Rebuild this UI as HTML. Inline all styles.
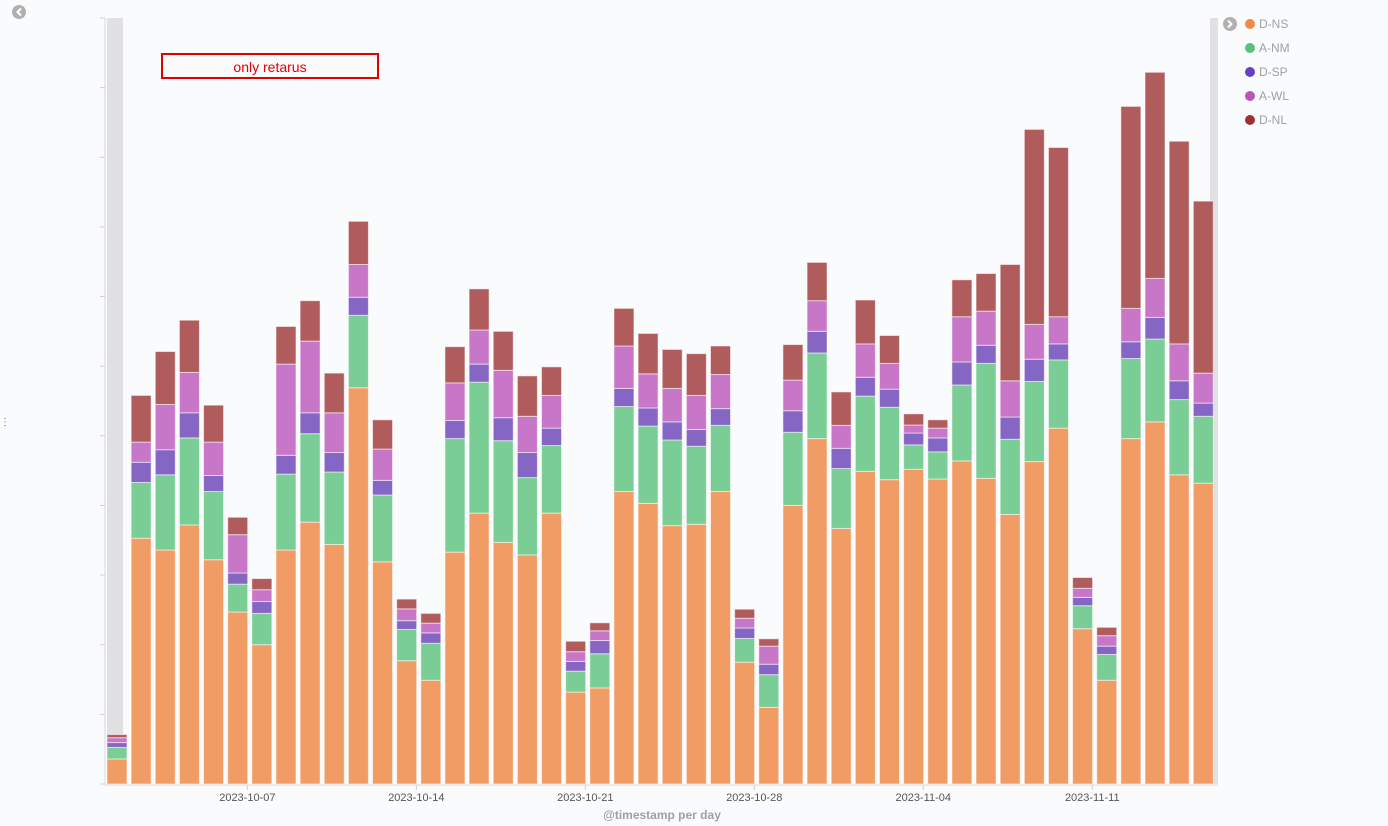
<!DOCTYPE html>
<html><head><meta charset="utf-8"><style>
html,body{margin:0;padding:0;background:#fafbfd;}
svg{display:block;font-family:"Liberation Sans",sans-serif;}
</style></head><body>
<svg id="chart" width="1388" height="826" viewBox="0 0 1388 826">
  <rect x="0" y="0" width="1388" height="826" fill="#fafbfd"/>
  <rect x="107" y="18" width="16" height="766" fill="#e1e1e3"/>
  <rect x="1210" y="18" width="8" height="766" fill="#e1e1e3"/>
  <g id="yaxis"></g>
  <g id="bars"></g>
  <g id="xaxis"></g>
  <text x="662" y="819" text-anchor="middle" font-size="12" font-weight="bold" fill="#a0a0a0">@timestamp per day</text>
  <g>
    <rect x="162" y="54" width="216" height="24" fill="none" stroke="#e00000" stroke-width="2"/>
    <text x="270" y="72" text-anchor="middle" font-size="14" fill="#e00000">only retarus</text>
  </g>
  <g>
    <circle cx="19" cy="12" r="7" fill="#b0b0b0"/>
    <path d="M21 8.5 L17.5 12 L21 15.5" stroke="#fff" stroke-width="2" fill="none"/>
  </g>
  <g>
    <circle cx="1230" cy="24" r="7" fill="#b0b0b0"/>
    <path d="M228.5 20.5" fill="none"/>
    <path d="M1228 20.5 L1231.5 24 L1228 27.5" stroke="#fff" stroke-width="2" fill="none"/>
  </g>
  <text x="0" y="425" font-size="10" fill="#666">⋮</text>
  <g id="legend"></g>
</svg>
<script>
const dates = ["2023-10-01","2023-10-02","2023-10-03","2023-10-04","2023-10-05","2023-10-06","2023-10-07","2023-10-08","2023-10-09","2023-10-10","2023-10-11","2023-10-12","2023-10-13","2023-10-14","2023-10-15","2023-10-16","2023-10-17","2023-10-18","2023-10-19","2023-10-20","2023-10-21","2023-10-22","2023-10-23","2023-10-24","2023-10-25","2023-10-26","2023-10-27","2023-10-28","2023-10-29","2023-10-30","2023-10-31","2023-11-01","2023-11-02","2023-11-03","2023-11-04","2023-11-05","2023-11-06","2023-11-07","2023-11-08","2023-11-09","2023-11-10","2023-11-11","2023-11-12","2023-11-13","2023-11-14","2023-11-15"];
const seriesNames = ["D-NS","A-NM","D-SP","A-WL","D-NL"];
const dNS = [3.6,35.3,33.6,37.2,32.2,24.7,20.0,33.6,37.6,34.4,56.9,31.9,17.7,14.9,33.3,38.9,34.7,32.9,38.9,13.2,13.8,42.0,40.3,37.1,37.3,42.0,17.5,11.0,40.0,49.6,36.7,44.9,43.7,45.2,43.8,46.4,43.9,38.7,46.3,51.1,22.3,14.9,49.6,52.0,44.4,43.2];
const aNM = [1.65,8.0,10.8,12.5,9.8,4.0,4.5,10.9,12.7,10.4,10.4,9.6,4.5,5.3,16.3,18.8,14.6,11.1,9.7,3.0,4.9,12.2,11.1,12.3,11.2,9.5,3.4,4.7,10.5,12.3,8.6,10.8,10.4,3.5,3.9,10.9,16.5,10.8,11.5,9.8,3.3,3.7,11.5,11.9,10.8,9.6];
const dSP = [0.7,2.9,3.6,3.6,2.3,1.6,1.7,2.7,3.0,2.8,2.6,2.1,1.25,1.5,2.6,2.6,3.3,3.6,2.5,1.4,1.9,2.6,2.6,2.6,2.4,2.4,1.5,1.5,3.1,3.1,2.9,2.7,2.6,1.7,2.0,3.3,2.6,3.2,3.2,2.3,1.2,1.2,2.4,3.1,2.7,1.9];
const aWL = [0.7,2.9,6.5,5.8,4.8,5.5,1.7,13.1,10.3,5.7,4.7,4.5,1.7,1.4,5.4,4.9,6.8,5.2,4.7,1.4,1.4,6.1,4.9,4.8,4.9,4.9,1.4,2.6,4.4,4.4,3.3,4.8,3.7,1.15,1.4,6.5,4.9,5.2,5.0,3.9,1.3,1.5,4.8,5.6,5.3,4.3];
const dNL = [0.45,6.7,7.6,7.5,5.3,2.5,1.6,5.4,5.8,5.7,6.2,4.2,1.4,1.4,5.2,5.9,5.6,5.8,4.1,1.5,1.15,5.4,5.8,5.6,6.0,4.1,1.3,1.05,5.1,5.5,4.8,6.3,4.0,1.6,1.2,5.3,5.4,16.7,28.0,24.3,1.55,1.2,29.0,29.6,29.1,24.7];
const xTickLabels = ["2023-10-07","2023-10-14","2023-10-21","2023-10-28","2023-11-04","2023-11-11"];
const yTickValues = [0,10,20,30,40,50,60,70,80,90,100,110];

const NS = "http://www.w3.org/2000/svg";
const colors = ["#f19c64","#79cd95","#8666c4","#c877c8","#b05c5c"];
const legendColors = ["#ef8a46","#57c17c","#6542bf","#bb55bb","#9e3232"];
const series = [dNS,aNM,dSP,aWL,dNL];
const baseY = 784, unitPx = 6.964, x0 = 117, step = 24.14, barW = 20;
function yScale(v){ return baseY - v*unitPx; }
function dayIndex(d){ return Math.round((Date.parse(d) - Date.parse(dates[0]))/86400000); }
function xCenter(i){ return x0 + i*step; }
function xTick(d){ return x0 + (dayIndex(d) - 0.6)*step; }
function mk(tag, attrs, parent){ const e=document.createElementNS(NS,tag); for(const k in attrs) e.setAttribute(k,attrs[k]); parent.appendChild(e); return e; }

const yaxis=document.getElementById('yaxis');
const yl=mk('line',{x1:105,y1:18,x2:105,y2:785,stroke:'#d8d8d8'},yaxis);


yTickValues.forEach(v=>{
  const t=mk('line',{x1:100,x2:105,y1:yScale(v),y2:yScale(v),stroke:'#d0d0d0'},yaxis);
  
  
});

const bars=document.getElementById('bars');
dates.forEach((d,i)=>{
  let acc=0;
  const g=mk('g',{},bars);
  
  
  series.forEach((s,k)=>{
    const v=s[i];
    const yTop=yScale(acc+v), yBot=yScale(acc);
    const r=mk('rect',{x:xCenter(dayIndex(d))-barW/2,y:yTop,width:barW,height:Math.max(0,yBot-yTop),fill:colors[k],stroke:'rgba(255,255,255,0.55)','stroke-width':1},g);
    
    
    acc+=v;
  });
});

const xaxis=document.getElementById('xaxis');
const xl=mk('line',{x1:105,y1:785,x2:1218,y2:785,stroke:'#e3d6cf'},xaxis);


xTickLabels.forEach(d=>{
  const x=xTick(d);
  const t=mk('line',{x1:x,x2:x,y1:785,y2:790,stroke:'#d0d0d0'},xaxis);
  
  
  const tx=mk('text',{x:x,y:801,'text-anchor':'middle','font-size':11,fill:'#555'},xaxis);
  tx.textContent=d;
  
  
});

const legend=document.getElementById('legend');
seriesNames.forEach((n,k)=>{
  const y=24+k*24;
  const g=mk('g',{},legend);
  
  
  mk('circle',{cx:1250,cy:y,r:5,fill:legendColors[k]},g);
  const t=mk('text',{x:1259,y:y+4,'font-size':12,fill:'#a0a0a0'},g);
  t.textContent=n;
});
</script>
</body></html>
